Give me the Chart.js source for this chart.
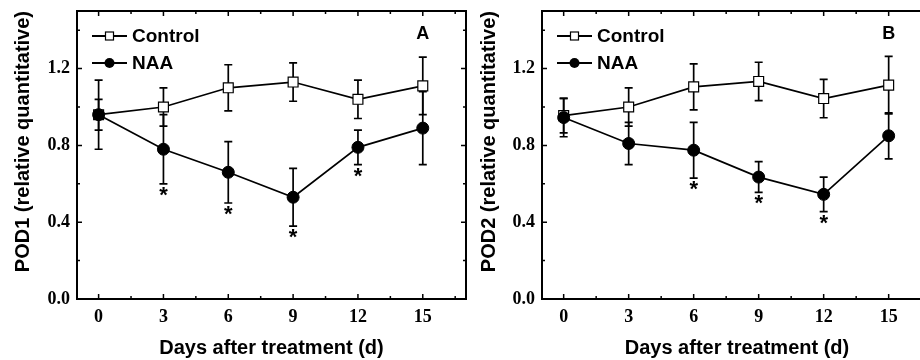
<!DOCTYPE html>
<html lang="en">
<head>
<meta charset="UTF-8">
<title>POD1 / POD2</title>
<script src="https://cdn.jsdelivr.net/npm/chart.js"></script>
<style>
  body { margin: 0; background: #fff; }
  .paineis { position: relative; width: 920px; height: 360px; overflow: hidden; }
  .paineis canvas { position: absolute; top: 0; display: block; }
  #graficoA { left: 0; }
  #graficoB { left: 460px; }
</style>
</head>
<body>
<div class="paineis">
  <canvas id="graficoA" width="470" height="360"></canvas>
  <canvas id="graficoB" width="476" height="360"></canvas>
</div>
<script>
  // dados
  const dias = [0, 3, 6, 9, 12, 15];
  const xTicks = [0, 3, 6, 9, 12, 15];
  const xMinor = [1.5, 4.5, 7.5, 10.5, 13.5, 16.5];
  const yTicks = [0, 0.4, 0.8, 1.2];
  const yMinor = [0.2, 0.6, 1.0, 1.4];

  // painel A - POD1
  const controlA = [0.96, 1.00, 1.10, 1.13, 1.04, 1.11];
  const erroControlA = [0.08, 0.10, 0.12, 0.10, 0.10, 0.15];
  const naaA = [0.96, 0.78, 0.66, 0.53, 0.79, 0.89];
  const erroNaaA = [0.18, 0.18, 0.16, 0.15, 0.09, 0.19];
  const sigA = [false, true, true, true, true, false];

  // painel B - POD2
  const controlB = [0.955, 1.00, 1.105, 1.133, 1.044, 1.114];
  const erroControlB = [0.09, 0.10, 0.12, 0.10, 0.10, 0.15];
  const naaB = [0.945, 0.81, 0.775, 0.635, 0.545, 0.85];
  const erroNaaB = [0.10, 0.11, 0.145, 0.08, 0.09, 0.12];
  const sigB = [false, false, true, true, true, false];

  Chart.defaults.color = '#000';

  const fonteTitulo = { family: "'Liberation Sans', Arial, sans-serif", size: 20, weight: 'bold' };
  const fonteTick = { family: "'Liberation Serif', 'Times New Roman', serif", size: 18, weight: 'bold' };

  // desenha barras de erro, caixa, ticks, legenda, letra e asteriscos
  const extras = {
    id: 'extras',
    beforeDatasetsDraw(chart, args, opts) {
      const ctx = chart.ctx;
      const xs = chart.scales.x, ys = chart.scales.y;
      ctx.save();
      ctx.strokeStyle = '#000';
      ctx.lineWidth = 1.7;
      opts.series.forEach(function (s) {
        for (let i = 0; i < dias.length; i++) {
          const x = xs.getPixelForValue(dias[i]);
          const yt = ys.getPixelForValue(s.valores[i] + s.erros[i]);
          const yb = ys.getPixelForValue(s.valores[i] - s.erros[i]);
          ctx.beginPath();
          ctx.moveTo(x, yt); ctx.lineTo(x, yb);
          ctx.moveTo(x - 4, yt); ctx.lineTo(x + 4, yt);
          ctx.moveTo(x - 4, yb); ctx.lineTo(x + 4, yb);
          ctx.stroke();
        }
      });
      ctx.restore();
    },
    afterDraw(chart, args, opts) {
      const ctx = chart.ctx;
      const a = chart.chartArea;
      const xs = chart.scales.x, ys = chart.scales.y;
      ctx.save();
      ctx.strokeStyle = '#000';
      ctx.fillStyle = '#000';

      // caixa
      ctx.lineWidth = 2;
      ctx.strokeRect(a.left, a.top, a.right - a.left, a.bottom - a.top);

      // ticks para dentro
      ctx.lineWidth = 1.5;
      ctx.beginPath();
      function tickX(v, len) {
        const x = xs.getPixelForValue(v);
        ctx.moveTo(x, a.bottom); ctx.lineTo(x, a.bottom - len);
        ctx.moveTo(x, a.top); ctx.lineTo(x, a.top + len);
      }
      function tickY(v, len) {
        const y = ys.getPixelForValue(v);
        ctx.moveTo(a.left, y); ctx.lineTo(a.left + len, y);
        ctx.moveTo(a.right, y); ctx.lineTo(a.right - len, y);
      }
      xTicks.forEach(v => tickX(v, 5));
      xMinor.forEach(v => tickX(v, 3));
      yTicks.forEach(v => tickY(v, 5));
      yMinor.forEach(v => tickY(v, 3));
      ctx.stroke();

      // asteriscos
      ctx.font = "bold 22px 'Liberation Sans', Arial, sans-serif";
      ctx.textAlign = 'center';
      ctx.textBaseline = 'alphabetic';
      const naa = opts.series[0];
      for (let i = 0; i < dias.length; i++) {
        if (opts.sig[i]) {
          const x = xs.getPixelForValue(dias[i]);
          const yb = ys.getPixelForValue(naa.valores[i] - naa.erros[i]);
          ctx.fillText('*', x, yb + 18);
        }
      }

      // letra do painel
      ctx.font = "bold 18px 'Liberation Sans', Arial, sans-serif";
      ctx.textBaseline = 'middle';
      ctx.fillText(opts.letra, xs.getPixelForValue(15), 34);

      // legenda
      const x0 = a.left + 15, x1 = a.left + 50, xm = (x0 + x1) / 2;
      const linhas = [
        { nome: 'Control', y: 36, tipo: 'rect' },
        { nome: 'NAA', y: 63, tipo: 'circle' }
      ];
      ctx.font = "bold 19px 'Liberation Sans', Arial, sans-serif";
      ctx.textAlign = 'left';
      linhas.forEach(function (l) {
        ctx.lineWidth = 1.8;
        ctx.beginPath();
        ctx.moveTo(x0, l.y); ctx.lineTo(x1, l.y);
        ctx.stroke();
        if (l.tipo == 'rect') {
          ctx.fillStyle = '#fff';
          ctx.fillRect(xm - 4, l.y - 4, 8, 8);
          ctx.lineWidth = 1.2;
          ctx.strokeRect(xm - 4, l.y - 4, 8, 8);
        } else {
          ctx.fillStyle = '#000';
          ctx.beginPath();
          ctx.arc(xm, l.y, 5, 0, Math.PI * 2);
          ctx.fill();
        }
        ctx.fillStyle = '#000';
        ctx.fillText(l.nome, a.left + 55, l.y + 1);
      });
      ctx.restore();
    }
  };

  function pontos(valores) {
    return dias.map((d, i) => ({ x: d, y: valores[i] }));
  }

  function criarGrafico(idCanvas, tituloY, letra, control, erroControl, naa, erroNaa, sig, larguraY, tituloPad) {
    return new Chart(document.getElementById(idCanvas), {
      type: 'line',
      data: {
        datasets: [{
          label: 'NAA',
          data: pontos(naa),
          borderColor: '#000',
          borderWidth: 1.7,
          pointStyle: 'circle',
          pointRadius: 6,
          pointBackgroundColor: '#000',
          pointBorderColor: '#000',
          pointBorderWidth: 1,
          tension: 0
        }, {
          label: 'Control',
          data: pontos(control),
          borderColor: '#000',
          borderWidth: 1.7,
          pointStyle: 'rect',
          pointRadius: 7,
          pointBackgroundColor: '#fff',
          pointBorderColor: '#000',
          pointBorderWidth: 1.2,
          tension: 0
        }]
      },
      options: {
        responsive: false,
        animation: false,
        devicePixelRatio: 1,
        layout: { autoPadding: false, padding: { top: 11, right: 4, left: 0, bottom: 0 } },
        plugins: {
          legend: { display: false },
          tooltip: { enabled: false },
          extras: {
            letra: letra,
            sig: sig,
            series: [
              { valores: naa, erros: erroNaa },
              { valores: control, erros: erroControl }
            ]
          }
        },
        scales: {
          x: {
            type: 'linear',
            min: -1,
            max: 17,
            grid: { display: false, drawTicks: false, tickLength: 0 },
            border: { display: false },
            afterBuildTicks: s => { s.ticks = xTicks.map(v => ({ value: v })); },
            afterFit: s => { s.height = 61; s.paddingLeft = 0; s.paddingRight = 0; },
            ticks: { font: fonteTick, padding: 8, maxRotation: 0, callback: v => v },
            title: { display: true, text: 'Days after treatment (d)', font: fonteTitulo, padding: { top: 0, bottom: 0 } }
          },
          y: {
            min: 0,
            max: 1.5,
            grid: { display: false, drawTicks: false, tickLength: 0 },
            border: { display: false },
            afterBuildTicks: s => { s.ticks = yTicks.map(v => ({ value: v })); },
            afterFit: s => { s.width = larguraY; s.paddingTop = 0; s.paddingBottom = 0; },
            ticks: { font: fonteTick, padding: 7, callback: v => Number(v).toFixed(1) },
            title: { display: true, align: 'end', text: tituloY, font: fonteTitulo, padding: { top: tituloPad, bottom: 0 } }
          }
        }
      },
      plugins: [extras]
    });
  }

  criarGrafico('graficoA', 'POD1 (relative quantitative)', 'A', controlA, erroControlA, naaA, erroNaaA, sigA, 77, 11);
  criarGrafico('graficoB', 'POD2 (relative quantitative)', 'B', controlB, erroControlB, naaB, erroNaaB, sigB, 82, 17);
</script>
</body>
</html>
